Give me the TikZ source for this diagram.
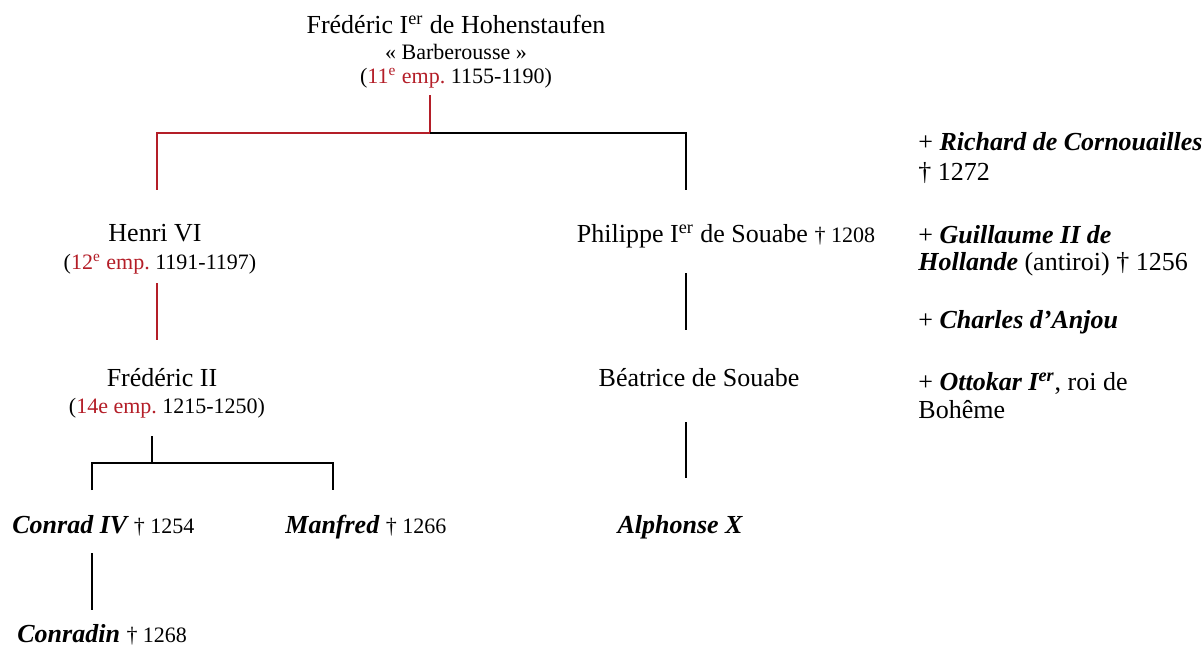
\documentclass[tikz,border=0pt]{standalone}
\usepackage{fontspec}
\setmainfont{Liberation Serif}
\definecolor{empred}{RGB}{180,30,40}
\newcommand{\mortdate}[1]{{\fontsize{11}{13}\selectfont † #1}}
\frenchspacing

\begin{document}
\begin{tikzpicture}[x=0.5pt,y=-0.5pt,
  big/.style={font=\fontsize{13}{15}\selectfont,inner sep=0pt},
  small/.style={font=\fontsize{11}{13}\selectfont,inner sep=0pt},
  redline/.style={draw=empred,line width=1pt},
  blackline/.style={draw=black,line width=1pt}]
\useasboundingbox (0,0) rectangle (1203,648);

\node[big,anchor=base] (barb) at (456,33) {Frédéric I\textsuperscript{er} de Hohenstaufen};
\node[small,anchor=base] (barbnick) at (456,59) {« Barberousse »};
\node[small,anchor=base] (barbemp) at (456,83) {(\textcolor{empred}{11\textsuperscript{e} emp.} 1155-1190)};

\node[big,anchor=base] (henri) at (155,241) {Henri VI};
\node[small,anchor=base] (henriemp) at (160,269) {(\textcolor{empred}{12\textsuperscript{e} emp.} 1191-1197)};

\node[big,anchor=base] (fred) at (162,386) {Frédéric II};
\node[small,anchor=base] (fredemp) at (167,413) {(\textcolor{empred}{14e emp.} 1215-1250)};

\node[big,anchor=base] (philippe) at (726,242) {Philippe I\textsuperscript{er} de Souabe \mortdate{1208}};
\node[big,anchor=base] (beatrice) at (699,386) {Béatrice de Souabe};
\node[big,anchor=base] (alphonse) at (680,533) {\bfseries\itshape Alphonse X};

\node[big,anchor=base west] (conrad) at (12,533) {{\bfseries\itshape Conrad IV} \mortdate{1254}};
\node[big,anchor=base west] (manfred) at (285,533) {{\bfseries\itshape Manfred} \mortdate{1266}};
\node[big,anchor=base west] (conradin) at (17,642) {{\bfseries\itshape Conradin} \mortdate{1268}};

\node[big,anchor=base west] (richard) at (918,150) {+ {\bfseries\itshape Richard de Cornouailles}};
\node[big,anchor=base west] (richardd) at (918,180) {† 1272};
\node[big,anchor=base west] (guill) at (918,243) {+ {\bfseries\itshape Guillaume II de}};
\node[big,anchor=base west] (guilld) at (918,270) {{\bfseries\itshape Hollande} (antiroi) † 1256};
\node[big,anchor=base west] (charles) at (918,328) {+ {\bfseries\itshape Charles d’Anjou}};
\node[big,anchor=base west] (ottokar) at (918,390) {+ {\bfseries\itshape Ottokar I\textsuperscript{er}}, roi de};
\node[big,anchor=base west] (ottokard) at (918,418) {Bohême};

\coordinate (barbdown) at (430,95);
\coordinate (barbjoin) at (430,133);
\coordinate (henriup) at (157,190);
\coordinate (philup) at (686,190);
\draw[redline] (barbdown) -- (barbjoin) -| (henriup);
\draw[blackline] (barbjoin) -| (philup);

\coordinate (henridown) at (157,283);
\coordinate (fredup) at (157,340);
\draw[redline] (henridown) -- (fredup);

\coordinate (freddown) at (152,436);
\coordinate (fredjoin) at (152,463);
\coordinate (conradup) at (92,490);
\coordinate (manfredup) at (333,490);
\draw[blackline] (freddown) -- (fredjoin);
\draw[blackline] (conradup) |- (fredjoin);
\draw[blackline] (fredjoin) -| (manfredup);

\coordinate (conraddown) at (92,553);
\coordinate (conradinup) at (92,610);
\draw[blackline] (conraddown) -- (conradinup);

\coordinate (phildown) at (686,273);
\coordinate (beatup) at (686,330);
\draw[blackline] (phildown) -- (beatup);
\coordinate (beatdown) at (686,422);
\coordinate (alphup) at (686,478);
\draw[blackline] (beatdown) -- (alphup);
\end{tikzpicture}
\end{document}
